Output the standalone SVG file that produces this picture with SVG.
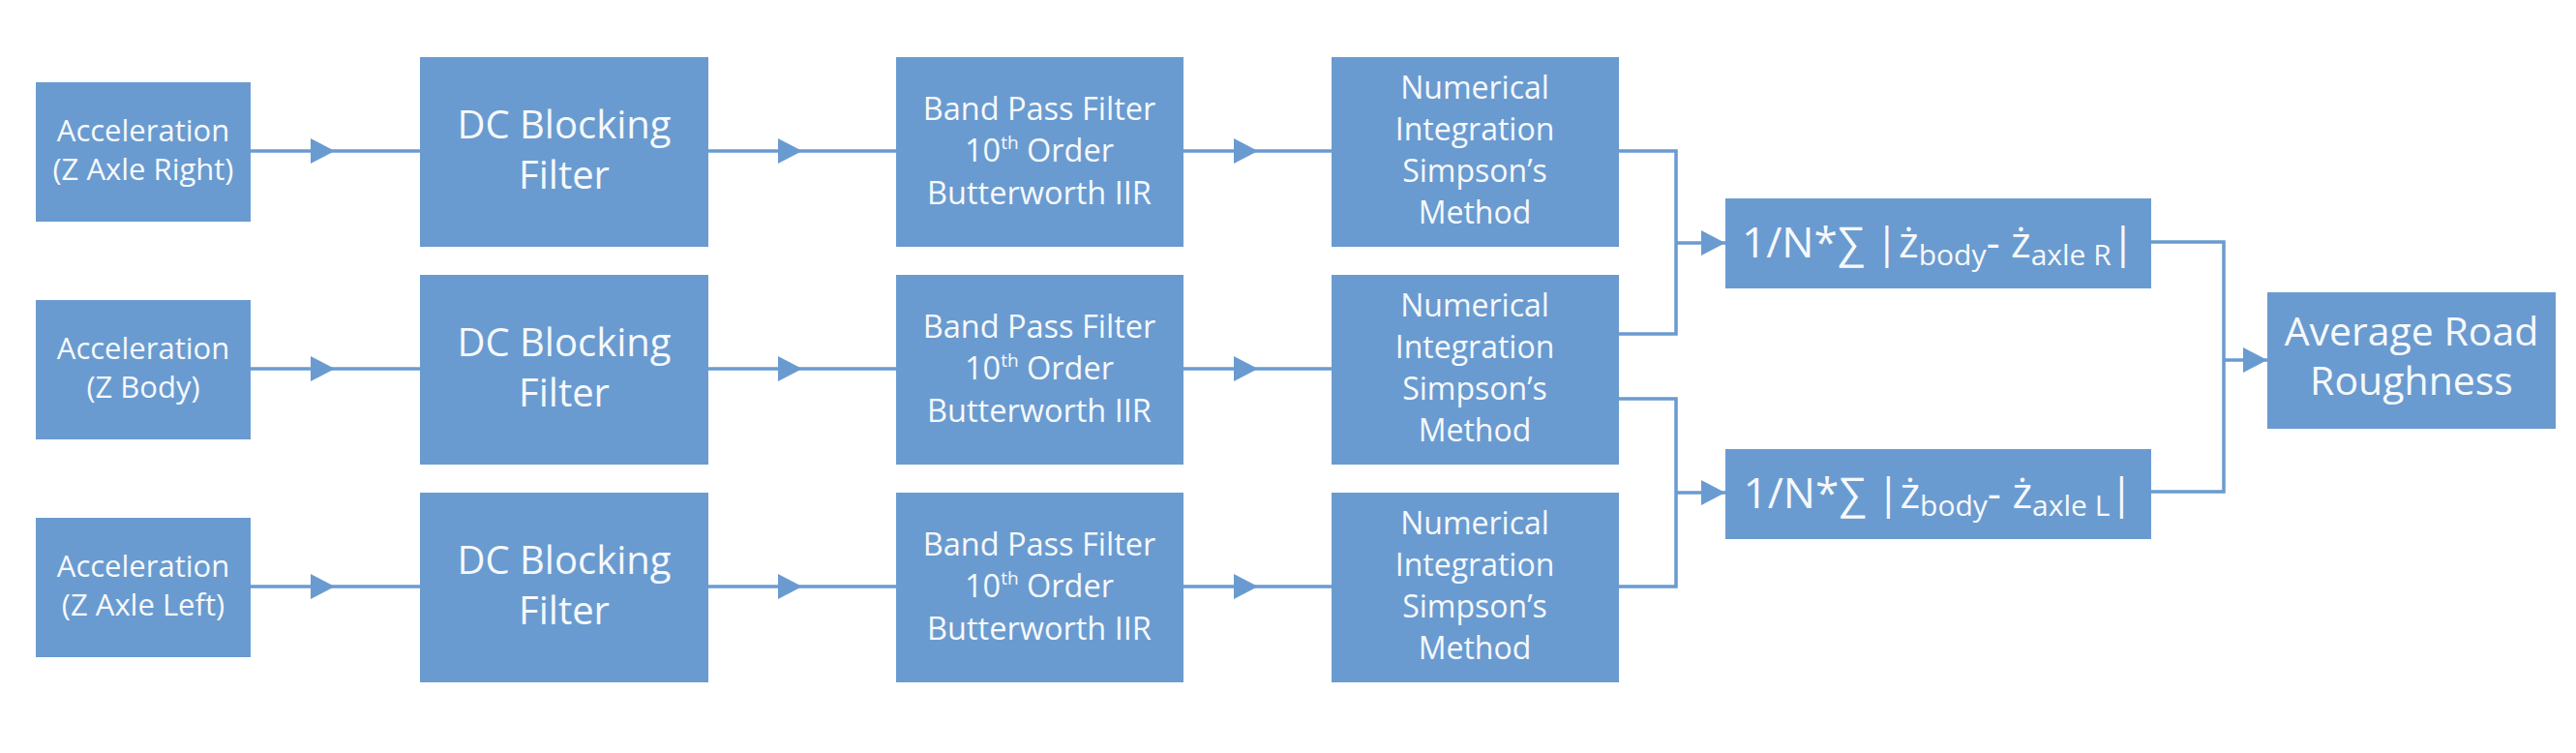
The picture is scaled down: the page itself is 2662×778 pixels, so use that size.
<svg xmlns="http://www.w3.org/2000/svg" width="2662" height="778" viewBox="0 0 2662 778">
<style>
.box{fill:#6a9bd0}
.t{fill:#f6f9fc;font-family:"Open Sans","Noto Sans","DejaVu Sans",sans-serif;text-anchor:middle}
.acc{font-size:31px}
.dc{font-size:40px}
.bpf{font-size:32.5px}
.ni{font-size:32px}
.avg{font-size:41px}
.sum{font-size:44px}
.sub{font-size:30px}
.c{fill:none;stroke:#6a9bd0;stroke-width:3.5}
</style>
<defs>
<marker id="ah" markerUnits="userSpaceOnUse" markerWidth="28" markerHeight="28" refX="25" refY="13" orient="auto">
<path d="M0,0 L25,13 L0,26 z" fill="#6a9bd0"/>
</marker>
</defs>
<g id="connectors">
<path class="c" d="M259 156 L346 156 L434 156" marker-mid="url(#ah)"/>
<path class="c" d="M259 381 L346 381 L434 381" marker-mid="url(#ah)"/>
<path class="c" d="M259 606 L346 606 L434 606" marker-mid="url(#ah)"/>
<path class="c" d="M732 156 L829 156 L926 156" marker-mid="url(#ah)"/>
<path class="c" d="M732 381 L829 381 L926 381" marker-mid="url(#ah)"/>
<path class="c" d="M732 606 L829 606 L926 606" marker-mid="url(#ah)"/>
<path class="c" d="M1223 156 L1300 156 L1376 156" marker-mid="url(#ah)"/>
<path class="c" d="M1223 381 L1300 381 L1376 381" marker-mid="url(#ah)"/>
<path class="c" d="M1223 606 L1300 606 L1376 606" marker-mid="url(#ah)"/>
<path class="c" d="M1673 156 H1732 V345 H1673"/>
<path class="c" d="M1732 251 H1783" marker-end="url(#ah)"/>
<path class="c" d="M1673 412 H1732 V606 H1673"/>
<path class="c" d="M1732 509 H1783" marker-end="url(#ah)"/>
<path class="c" d="M2223 250 H2298 V508 H2223"/>
<path class="c" d="M2298 372 H2343" marker-end="url(#ah)"/>
</g>
<g id="acc1"><rect class="box" x="37" y="85" width="222" height="144"/><text class="t acc" x="148" y="146">Acceleration</text><text class="t acc" x="148" y="186">(Z Axle Right)</text></g>
<g id="acc2"><rect class="box" x="37" y="310" width="222" height="144"/><text class="t acc" x="148" y="371">Acceleration</text><text class="t acc" x="148" y="411">(Z Body)</text></g>
<g id="acc3"><rect class="box" x="37" y="535" width="222" height="144"/><text class="t acc" x="148" y="596">Acceleration</text><text class="t acc" x="148" y="636">(Z Axle Left)</text></g>
<g id="dc1"><rect class="box" x="434" y="59" width="298" height="196"/><text class="t dc" x="583" y="143">DC Blocking</text><text class="t dc" x="583" y="195">Filter</text></g>
<g id="dc2"><rect class="box" x="434" y="284" width="298" height="196"/><text class="t dc" x="583" y="368">DC Blocking</text><text class="t dc" x="583" y="420">Filter</text></g>
<g id="dc3"><rect class="box" x="434" y="509" width="298" height="196"/><text class="t dc" x="583" y="593">DC Blocking</text><text class="t dc" x="583" y="645">Filter</text></g>
<g id="bpf1"><rect class="box" x="926" y="59" width="297" height="196"/><text class="t bpf" x="1074" y="124">Band Pass Filter</text><text class="t bpf" x="1074" y="167">10<tspan font-size="19" dy="-13">th</tspan><tspan dy="13"> Order</tspan></text><text class="t bpf" x="1074" y="211">Butterworth IIR</text></g>
<g id="bpf2"><rect class="box" x="926" y="284" width="297" height="196"/><text class="t bpf" x="1074" y="349">Band Pass Filter</text><text class="t bpf" x="1074" y="392">10<tspan font-size="19" dy="-13">th</tspan><tspan dy="13"> Order</tspan></text><text class="t bpf" x="1074" y="436">Butterworth IIR</text></g>
<g id="bpf3"><rect class="box" x="926" y="509" width="297" height="196"/><text class="t bpf" x="1074" y="574">Band Pass Filter</text><text class="t bpf" x="1074" y="617">10<tspan font-size="19" dy="-13">th</tspan><tspan dy="13"> Order</tspan></text><text class="t bpf" x="1074" y="661">Butterworth IIR</text></g>
<g id="ni1"><rect class="box" x="1376" y="59" width="297" height="196"/><text class="t ni" x="1524" y="102">Numerical</text><text class="t ni" x="1524" y="145">Integration</text><text class="t ni" x="1524" y="188">Simpson’s</text><text class="t ni" x="1524" y="231">Method</text></g>
<g id="ni2"><rect class="box" x="1376" y="284" width="297" height="196"/><text class="t ni" x="1524" y="327">Numerical</text><text class="t ni" x="1524" y="370">Integration</text><text class="t ni" x="1524" y="413">Simpson’s</text><text class="t ni" x="1524" y="456">Method</text></g>
<g id="ni3"><rect class="box" x="1376" y="509" width="297" height="196"/><text class="t ni" x="1524" y="552">Numerical</text><text class="t ni" x="1524" y="595">Integration</text><text class="t ni" x="1524" y="638">Simpson’s</text><text class="t ni" x="1524" y="681">Method</text></g>
<g id="sumR"><rect class="box" x="1783" y="205" width="440" height="93"/><text class="t sum" x="2003" y="266">1/N*∑ |ż<tspan class="sub" dy="8">body</tspan><tspan dy="-8">- ż</tspan><tspan class="sub" dy="8">axle R</tspan><tspan dy="-8">|</tspan></text></g>
<g id="sumL"><rect class="box" x="1783" y="464" width="440" height="93"/><text class="t sum" x="2003" y="525">1/N*∑ |ż<tspan class="sub" dy="8">body</tspan><tspan dy="-8">- ż</tspan><tspan class="sub" dy="8">axle L</tspan><tspan dy="-8">|</tspan></text></g>
<g id="avg"><rect class="box" x="2343" y="302" width="298" height="141"/><text class="t avg" x="2492" y="357">Average Road</text><text class="t avg" x="2492" y="408">Roughness</text></g>
</svg>
